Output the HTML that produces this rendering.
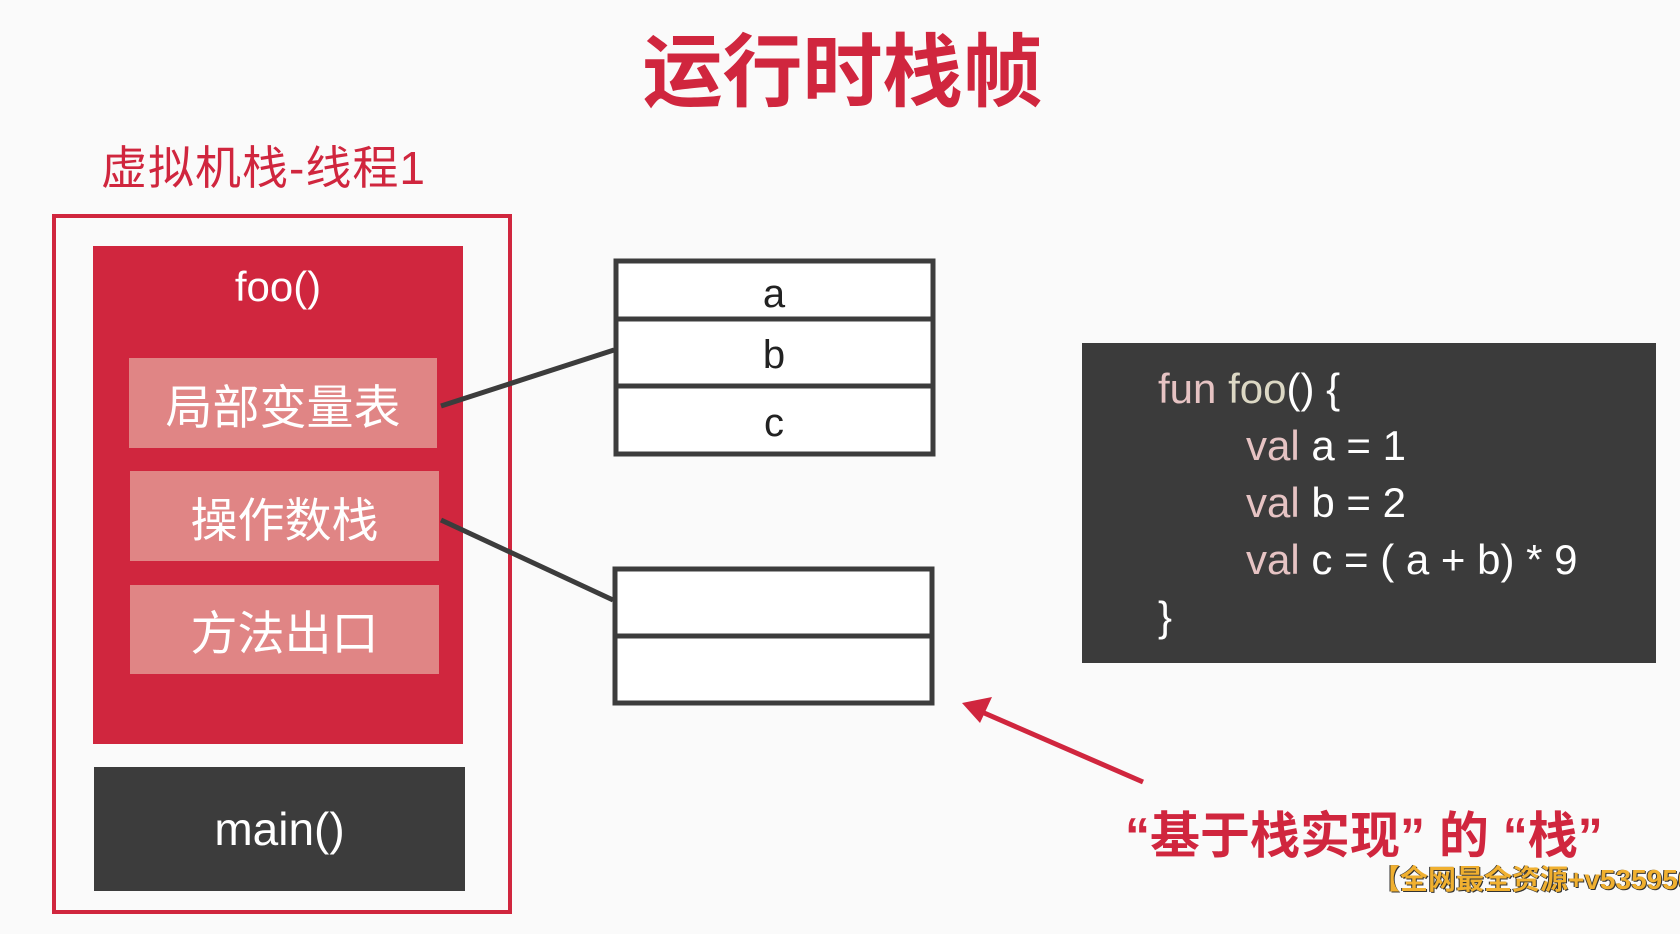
<!DOCTYPE html>
<html><head><meta charset="utf-8"><style>
html,body{margin:0;padding:0}
body{width:1680px;height:934px;background:#fafafa;position:relative;overflow:hidden;font-family:"Liberation Sans","Noto Sans CJK SC",sans-serif}
.a{position:absolute}
.c{display:flex;align-items:center;justify-content:center}
.code div{white-space:pre;height:57px}
</style></head><body>
<div class="a" style="left:600px;top:28px;width:485px;text-align:center;font-size:80px;font-weight:bold;color:#d0263e;line-height:90px">运行时栈帧</div>
<div class="a" style="left:101px;top:140px;font-size:46px;letter-spacing:1px;color:#d0263e;line-height:56px">虚拟机栈-线程1</div>
<div class="a" style="left:52px;top:214px;width:460px;height:700px;box-sizing:border-box;border:4px solid #d0263e"></div>
<div class="a" style="left:93px;top:246px;width:370px;height:498px;background:#d0263e"></div>
<div class="a c" style="left:93px;top:260px;width:370px;height:54px;color:#fff;font-size:42px">foo()</div>
<div class="a c" style="left:129px;top:358px;width:308px;height:90px;background:#e08585;color:#fff;font-size:47px">局部变量表</div>
<div class="a c" style="left:130px;top:471px;width:309px;height:90px;background:#e08585;color:#fff;font-size:47px">操作数栈</div>
<div class="a c" style="left:130px;top:585px;width:309px;height:89px;background:#e08585;color:#fff;font-size:47px">方法出口</div>
<div class="a c" style="left:94px;top:767px;width:371px;height:124px;background:#3c3c3c;color:#fff;font-size:46px">main()</div>
<svg class="a" style="left:0;top:0" width="1680" height="934">
<g fill="#fff" stroke="#3c3c3c" stroke-width="5">
<rect x="616" y="261" width="317" height="193"/>
<line x1="616" y1="319" x2="933" y2="319"/>
<line x1="616" y1="386" x2="933" y2="386"/>
<rect x="615" y="569" width="317" height="134"/>
<line x1="615" y1="636" x2="932" y2="636"/>
</g>
<g stroke="#3c3c3c" stroke-width="5">
<line x1="441" y1="406" x2="614" y2="350"/>
<line x1="441" y1="520" x2="613" y2="600"/>
</g>
<line x1="1143" y1="782" x2="975" y2="709" stroke="#d0263e" stroke-width="5"/>
<polygon points="962,703 992,697 980,723" fill="#d0263e"/>
<g font-family="Liberation Sans, sans-serif" font-size="40" fill="#222" text-anchor="middle">
<text x="774" y="307">a</text>
<text x="774" y="368">b</text>
<text x="774" y="436">c</text>
</g>
</svg>
<div class="a" style="left:1082px;top:343px;width:574px;height:320px;background:#3b3b3b"></div>
<div class="a code" style="left:1158px;top:360px;font-size:42px;line-height:57px;color:#fff"><div><span style="color:#e6c3c3">fun</span> <span style="color:#dcd8c4">foo</span>() {</div><div style="padding-left:88px"><span style="color:#e6c3c3">val</span> a = 1</div><div style="padding-left:88px"><span style="color:#e6c3c3">val</span> b = 2</div><div style="padding-left:88px"><span style="color:#e6c3c3">val</span> c = ( a + b) * 9</div><div>}</div></div>
<div class="a" style="left:1125px;top:806px;font-size:50px;font-weight:bold;color:#d0263e;line-height:60px;white-space:pre">“基于栈实现” 的 “栈”</div>
<div class="a" style="left:1372px;top:864px;font-size:28px;font-weight:bold;color:#f0b030;line-height:32px;white-space:nowrap;text-shadow:1px 1px 0 #333,-1px 0 0 #333">【全网最全资源+v535950</div>
</body></html>
